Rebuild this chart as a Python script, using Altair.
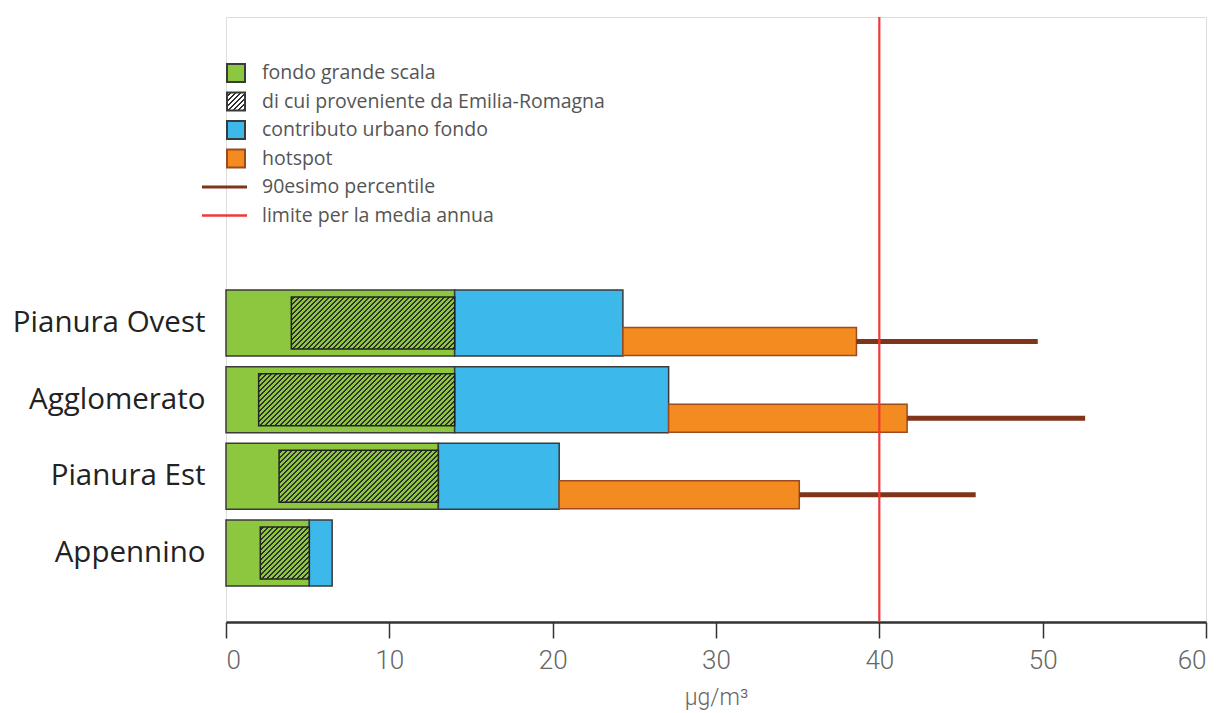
import altair as alt
import pandas as pd

# ---------------- data ----------------
categories = ["Pianura Ovest", "Agglomerato", "Pianura Est", "Appennino"]
fondo_grande_scala = [14.0, 14.0, 13.0, 5.1]          # green bar end
di_cui_emilia_romagna = [10.0, 12.0, 9.75, 3.0]         # hatched part (right end of green)
contributo_urbano = [10.3, 13.1, 7.4, 1.4]              # blue, stacked after green
hotspot_totale = [38.6, 41.7, 35.1, None]               # orange bar end
percentile_90 = [49.7, 52.6, 45.9, None]                # 90th percentile
limite_media_annua = 40

legend_labels = [
    "fondo grande scala",
    "di cui proveniente da Emilia-Romagna",
    "contributo urbano fondo",
    "hotspot",
    "90esimo percentile",
    "limite per la media annua",
]

# ---------------- styling ----------------
W, H = 980, 605
XMAX = 60
PX = W / XMAX
GREEN = "#8DC63F"
BLUE = "#3DB8EA"
ORANGE = "#F48B20"
ORANGE_STROKE = "#9C4A1E"
BROWN = "#7F3519"
RED = "#EE3A36"
EDGE = "#3a3a3a"
HATCH = "#2f2f2f"
FONT = "Open Sans"
NARROW = "Roboto"

rows = []
for i, c in enumerate(categories):
    f = fondo_grande_scala[i]
    u = f + contributo_urbano[i]
    rows.append({
        "cat": c,
        "zero": 0.0,
        "fondo": f,
        "er_start": f - di_cui_emilia_romagna[i],
        "urbano": u,
        "hot": hotspot_totale[i],
        "p90": percentile_90[i],
    })
df = pd.DataFrame(rows)

yscale = alt.Scale(domain=categories, range=[267.67, 574.33], paddingInner=0.139, paddingOuter=0.0695)
Y = alt.Y("cat:N", sort=categories, scale=yscale,
          axis=alt.Axis(title=None, domain=False, ticks=False, labelFontSize=29.5, labelLimit=0,
                        labelFont=FONT, labelColor="#222222", labelPadding=21))
xaxis = alt.Axis(values=[0, 10, 20, 30, 40, 50, 60], title="μg/m³", grid=False,
                 domainColor="#333333", domainWidth=2.5, tickColor="#333333", tickWidth=1.5,
                 tickSize=16, labelFont=NARROW, labelFontSize=26, labelFontWeight=300,
                 labelColor="#666666", labelPadding=9, titleFont=NARROW, titleFontSize=23,
                 titleColor="#666666", titleFontWeight=300, titlePadding=13)
xscale = alt.Scale(domain=[0, XMAX], nice=False)


def hatch_gradient(w, h, period, thick, base, line):
    total = w + h
    stops = [alt.GradientStop(color=base, offset=0)]
    s = period * 0.5
    while s < total:
        a = s / total
        b = min((s + thick) / total, 1.0)
        stops += [alt.GradientStop(color=base, offset=a), alt.GradientStop(color=line, offset=a),
                  alt.GradientStop(color=line, offset=b), alt.GradientStop(color=base, offset=b)]
        s += period
    stops.append(alt.GradientStop(color=base, offset=1))
    k = total / (w * w + h * h)
    return alt.LinearGradient(gradient="linear", stops=stops, x1=0, y1=0, x2=k * w, y2=k * h)


base = alt.Chart(df)

green = base.mark_bar(color=GREEN, stroke=EDGE, strokeWidth=1.5).encode(
    y=Y, x=alt.X("zero:Q", scale=xscale, axis=xaxis), x2="fondo:Q")

blue = base.mark_bar(color=BLUE, stroke=EDGE, strokeWidth=1.5).encode(
    y=Y, x="fondo:Q", x2="urbano:Q")

layers = [green, blue]

HATCH_H = 52
for i, c in enumerate(categories):
    wpx = di_cui_emilia_romagna[i] * PX
    grad = hatch_gradient(wpx, HATCH_H, 5.0, 1.7, GREEN, HATCH)
    layers.append(
        base.transform_filter(alt.datum.cat == c).mark_bar(
            size=HATCH_H, fill=grad, stroke="#222222", strokeWidth=1.5
        ).encode(y=Y, x="er_start:Q", x2="fondo:Q")
    )

hot_df = df.dropna(subset=["hot"])
orange = alt.Chart(hot_df).mark_bar(
    size=28, yOffset=18.5, color=ORANGE, stroke=ORANGE_STROKE, strokeWidth=1.5
).encode(y=Y, x="urbano:Q", x2="hot:Q")

p90 = alt.Chart(hot_df).mark_rule(color=BROWN, strokeWidth=5, yOffset=18.5).encode(
    y=Y, x="hot:Q", x2="p90:Q")

limit = alt.Chart(pd.DataFrame({"lim": [limite_media_annua]})).mark_rule(
    color=RED, strokeWidth=2.2).encode(x="lim:Q")

layers += [orange, p90, limit]

# ---------------- manual legend ----------------
leg_y0 = 56.0
leg_step = 28.5
one = pd.DataFrame({"k": [0]})
square_fills = [GREEN, None, BLUE, ORANGE]
square_strokes = [EDGE, EDGE, EDGE, ORANGE_STROKE]
for i in range(4):
    fill = square_fills[i]
    if fill is None:
        fill = hatch_gradient(18, 18, 5.0, 2.4, "#ffffff", HATCH)
    layers.append(
        alt.Chart(one).mark_square(size=324, fill=fill, fillOpacity=1, stroke=square_strokes[i],
                                   strokeWidth=2, opacity=1).encode(
            x=alt.value(10), y=alt.value(leg_y0 + i * leg_step))
    )
line_colors = [BROWN, RED]
line_widths = [3, 2.5]
for j in range(2):
    yy = leg_y0 + (4 + j) * leg_step
    layers.append(
        alt.Chart(one).mark_rule(color=line_colors[j], strokeWidth=line_widths[j]).encode(
            x=alt.value(-24), x2=alt.value(21), y=alt.value(yy))
    )
for i, lab in enumerate(legend_labels):
    layers.append(
        alt.Chart(pd.DataFrame({"t": [lab]})).mark_text(
            align="left", baseline="middle", font=FONT, fontSize=19.5, color="#555555"
        ).encode(text="t:N", x=alt.value(36), y=alt.value(leg_y0 + i * leg_step))
    )

chart = alt.layer(*layers).properties(
    width=W, height=H,
    autosize=alt.AutoSizeParams(type="none"),
    padding={"left": 218, "top": 9, "right": 10, "bottom": 90},
).configure_view(stroke=None).configure(background="white")

chart.save("out.html", embed_options={"renderer": "svg", "actions": False})
